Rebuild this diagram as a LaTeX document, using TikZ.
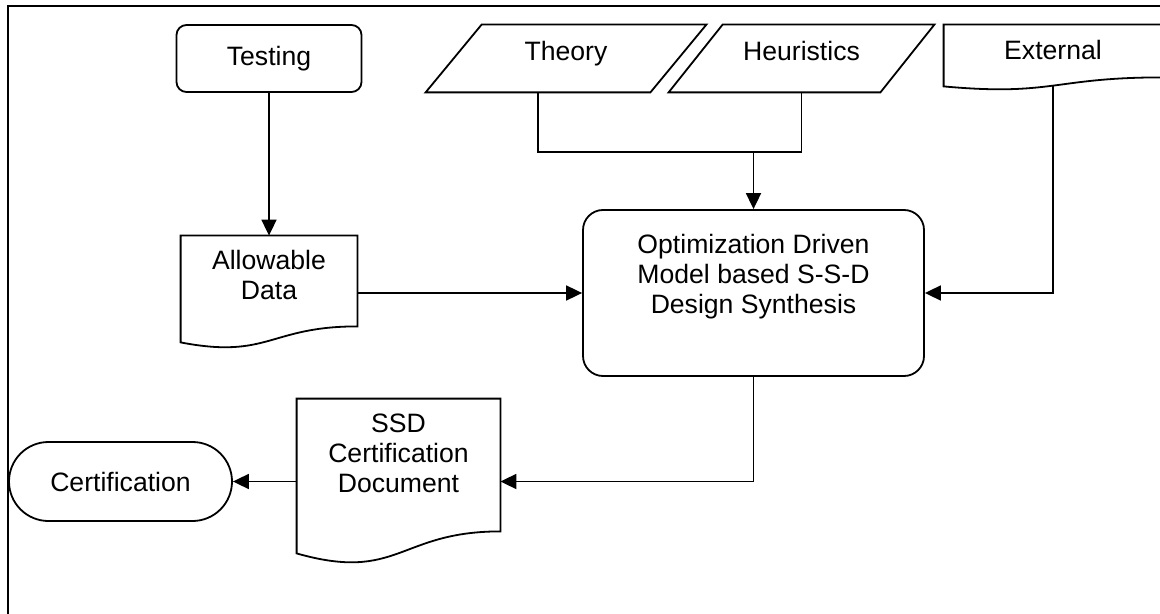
\documentclass[tikz,border=0pt]{standalone}
\usepackage{fontspec}
\setmainfont{Liberation Sans}
\usetikzlibrary{calc,arrows.meta}

\def\docedge#1#2#3{
  \draw[flow] (#1.north west) -- (#1.north east) -- (#1.south east)
    .. controls (#1.south) and ($(#1.south)+(0,#2+#3)$) .. ($(#1.south west)+(0,#2)$)
    coordinate[pos=.5] (#1 wave) -- cycle;
}
\def\slantedge#1#2{
  \draw[flow] ([xshift=#2]#1.north west) -- (#1.north east)
    -- ([xshift=-#2]#1.south east) -- (#1.south west) -- cycle;
}
\tikzset{
  every node/.style={font=\fontsize{13.3}{15}\selectfont,align=center},
  flow/.style={line width=.9pt},
  arr/.style={flow,-{Triangle[length=8pt,width=7.5pt]}},
  plate/.style 2 args={minimum width=#1,minimum height=#2},
  oneline/.style={text height=9.5pt,text depth=7pt},
  term/.style={draw,flow,rounded corners=5pt,plate={92.5pt}{33.5pt}},
  procbox/.style={draw,flow,rounded corners=10pt,plate={170.5pt}{83pt}},
  stadium/.style={draw,flow,rounded corners=19.75pt,plate={111.5pt}{39.5pt}}
}

\begin{document}
\begin{tikzpicture}[x=.5pt,y=-.5pt]
  \useasboundingbox (0,0) rectangle (1160,614);
  \draw[flow] (8,6) rectangle (1180,630);

  \node[term] at (269,58.5) (testing) {Testing};
  \node[plate={140pt}{33.5pt},oneline] at (566,58.5) (theory) {Theory};
  \slantedge{theory}{28pt}
  \node[plate={132.5pt}{33.5pt},oneline] at (801.5,58.5) (heur) {Heuristics};
  \slantedge{heur}{27pt}
  \node[plate={109pt}{26pt},label={[anchor=north,yshift=-4.5pt]north:External}] at (1053,51) (ext) {};
  \docedge{ext}{9}{10}

  \node[plate={88pt}{45pt},label={[anchor=north,yshift=-4pt]north:Allowable\\Data}] at (269,281) (allow) {};
  \docedge{allow}{16}{17}
  \node[procbox,label={[anchor=north,yshift=-9pt]north:Optimization Driven\\Model based S-S-D\\Design Synthesis}] at (753.5,293) (synth) {};

  \node[plate={101.5pt}{66pt},label={[anchor=north,yshift=-4pt]north:SSD\\Certification\\Document}] at (398.5,465) (ssd) {};
  \docedge{ssd}{22}{29}
  \node[stadium] at (120.5,481.5) (cert) {Certification};

  \coordinate (join) at (753.5,152);
  \draw[arr] (testing) -- (allow);
  \draw[flow] ([xshift=-14pt]theory.south) |- (join) -| (heur.south);
  \draw[arr] (join) -- (synth);
  \draw[arr] (allow.east |- synth.west) -- (synth.west);
  \draw[arr] (ext wave) |- (synth.east);
  \draw[arr] (synth.south) |- (ssd.east |- cert.east);
  \draw[arr] (ssd.west |- cert.east) -- (cert.east);
\end{tikzpicture}
\end{document}
